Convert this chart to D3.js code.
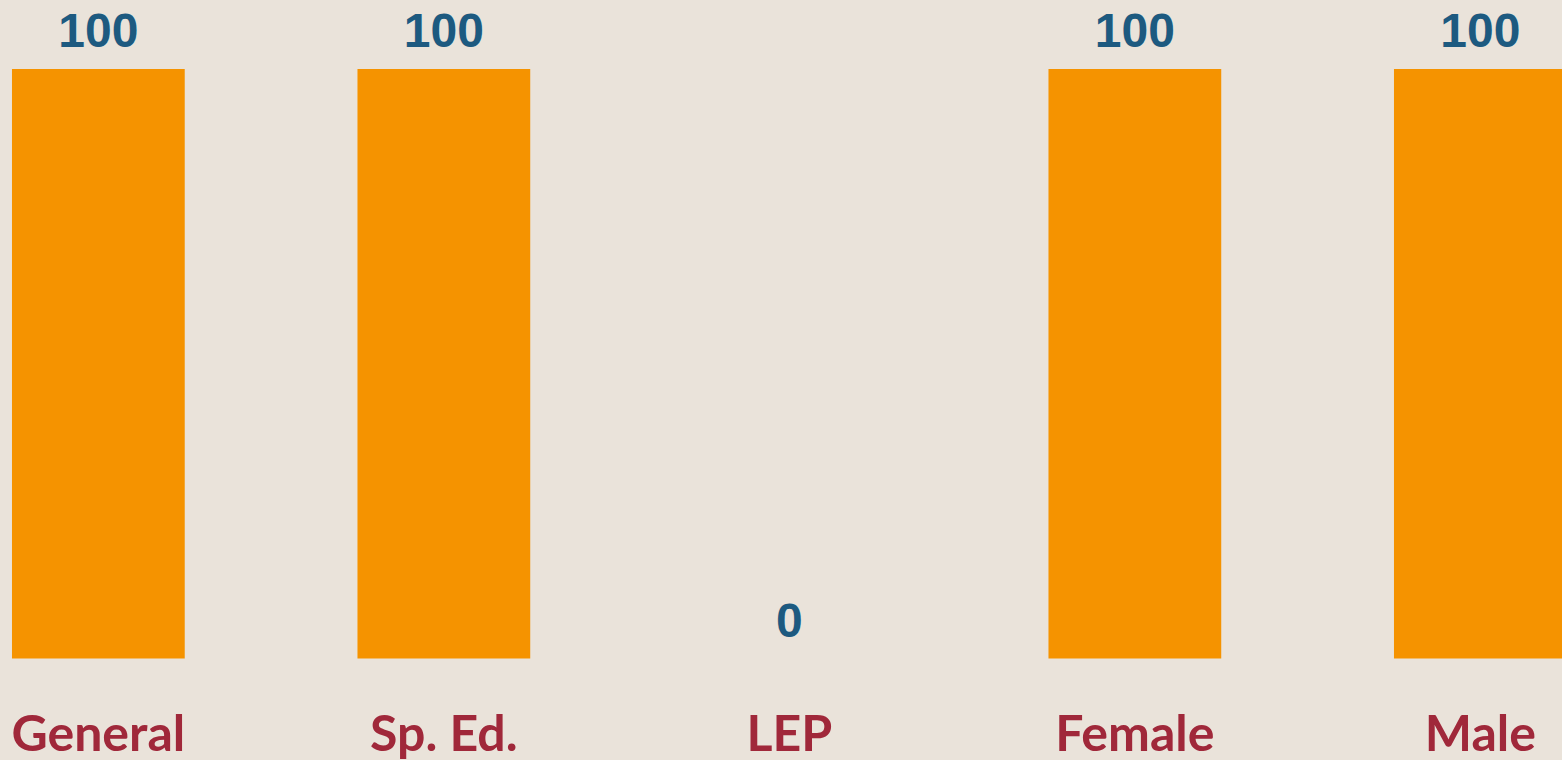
<!DOCTYPE html>
<html>
<head>
<meta charset="utf-8">
<script src="https://cdn.jsdelivr.net/npm/d3@7"></script>
<style>
    html, body { margin: 0; padding: 0; background: #eae3da; overflow: hidden; }
    .value-label { font-family: "Liberation Sans", Arial, sans-serif; font-weight: bold; font-size: 48px; fill: #1d5a80; }
    .cat-label { font-family: Lato, "Open Sans", sans-serif; font-weight: bold; font-size: 50px; fill: #a0283a; }
</style>
</head>
<body>
<div id="chart"></div>
<script>
// chart data
const categories = ["General", "Sp. Ed.", "LEP", "Female", "Male"];
const values = [100, 100, 0, 100, 100];

class BarVis {

    constructor(parentElement, categories, values) {
        this.parentElement = parentElement;
        this.categories = categories;
        this.values = values;
        this.initVis();
    }

    initVis() {
        let vis = this;

        vis.totalWidth = 1562;
        vis.totalHeight = 760;
        vis.margin = {top: 69, bottom: 101.5};
        vis.height = vis.totalHeight - vis.margin.top - vis.margin.bottom;

        vis.svg = d3.select("#" + vis.parentElement).append("svg")
                    .attr("width", vis.totalWidth)
                    .attr("height", vis.totalHeight)
                    .style("display", "block");

        vis.svg.append("rect")
            .attr("width", vis.totalWidth)
            .attr("height", vis.totalHeight)
            .attr("fill", "#eae3da");

        vis.g = vis.svg.append("g")
                    .attr("transform", `translate(0, ${vis.margin.top})`);

        // band scale wider than the window: last bar runs off the right edge
        vis.x = d3.scaleBand()
                    .range([-74.4, 1653.1])
                    .paddingInner(0.5)
                    .paddingOuter(0.25);

        vis.y = d3.scaleLinear()
                    .range([vis.height, 0]);

        vis.updateVis();
    }

    updateVis() {
        let vis = this;

        vis.data = vis.categories.map((c, i) => ({cat: c, val: vis.values[i]}));

        vis.x.domain(vis.categories);
        vis.y.domain([0, 100]);

        vis.g.selectAll(".bar")
            .data(vis.data)
            .enter().append("rect")
            .attr("class", "bar")
            .attr("x", d => vis.x(d.cat))
            .attr("y", d => vis.y(d.val))
            .attr("width", vis.x.bandwidth())
            .attr("height", d => vis.height - vis.y(d.val))
            .attr("fill", "#f59300");

        vis.g.selectAll(".value-label")
            .data(vis.data)
            .enter().append("text")
            .attr("class", "value-label")
            .attr("x", d => vis.x(d.cat) + vis.x.bandwidth() / 2)
            .attr("y", d => vis.y(d.val) - 22)
            .attr("text-anchor", "middle")
            .text(d => d.val);

        vis.g.selectAll(".cat-label")
            .data(vis.data)
            .enter().append("text")
            .attr("class", "cat-label")
            .attr("x", d => vis.x(d.cat) + vis.x.bandwidth() / 2)
            .attr("y", vis.height + 92)
            .attr("text-anchor", "middle")
            .text(d => d.cat);
    }
}

new BarVis("chart", categories, values);
</script>
</body>
</html>
